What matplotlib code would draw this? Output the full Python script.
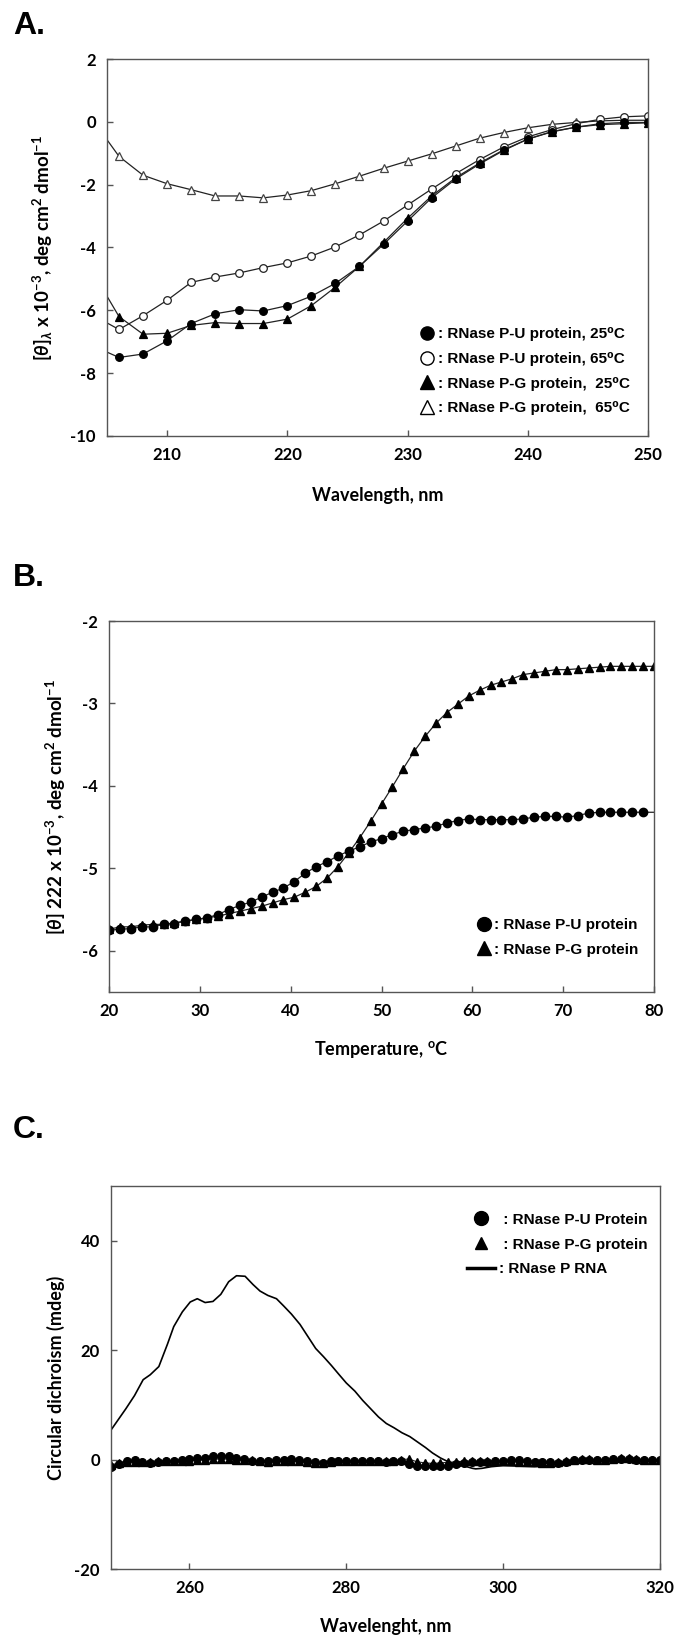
import matplotlib
matplotlib.use("Agg")
import matplotlib.pyplot as plt
from matplotlib.lines import Line2D

plt.rcParams['font.family'] = ['Lato', 'DejaVu Sans']
plt.rcParams['font.weight'] = 'bold'
plt.rcParams['axes.unicode_minus'] = False
plt.rcParams['mathtext.fontset'] = 'custom'
plt.rcParams['mathtext.rm'] = 'Lato:bold'
plt.rcParams['mathtext.it'] = 'Lato:bold:italic'
plt.rcParams['mathtext.bf'] = 'Lato:bold'
plt.rcParams['mathtext.fallback'] = 'stixsans'

# ---- panel A: far-UV CD spectra ----
wl_a = [205, 206, 208, 210, 212, 214, 216, 218, 220, 222, 224, 226, 228,
        230, 232, 234, 236, 238, 240, 242, 244, 246, 248, 250]
pu_25 = [-7.33, -7.50, -7.39, -6.97, -6.42, -6.11, -5.98, -6.02, -5.85, -5.55, -5.14, -4.60,
         -3.90, -3.16, -2.42, -1.82, -1.34, -0.91, -0.55, -0.32, -0.17, -0.06, -0.02, -0.02]
pu_65 = [-6.40, -6.61, -6.17, -5.68, -5.11, -4.94, -4.81, -4.64, -4.49, -4.27, -3.98, -3.60,
         -3.16, -2.65, -2.14, -1.65, -1.20, -0.80, -0.48, -0.25, -0.06, 0.08, 0.16, 0.19]
pg_25 = [-5.55, -6.20, -6.76, -6.73, -6.48, -6.39, -6.42, -6.42, -6.28, -5.85, -5.26, -4.60,
         -3.84, -3.07, -2.36, -1.78, -1.31, -0.89, -0.55, -0.31, -0.17, -0.09, -0.06, -0.03]
pg_65 = [-0.57, -1.10, -1.70, -1.97, -2.16, -2.36, -2.36, -2.42, -2.33, -2.19, -1.97, -1.73,
         -1.48, -1.25, -1.02, -0.77, -0.52, -0.34, -0.19, -0.08, -0.02, 0.03, 0.05, 0.05]

# ---- panel B: thermal melt at 222 nm ----
temp_b = [20.0, 21.2, 22.4, 23.6, 24.8, 26.0, 27.2, 28.4, 29.6, 30.8, 32.0, 33.2, 34.4,
          35.6, 36.8, 38.0, 39.2, 40.4, 41.6, 42.8, 44.0, 45.2, 46.4, 47.6, 48.8, 50.0,
          51.2, 52.4, 53.6, 54.8, 56.0, 57.2, 58.4, 59.6, 60.8, 62.0, 63.2, 64.4, 65.6,
          66.8, 68.0, 69.2, 70.4, 71.6, 72.8, 74.0, 75.2, 76.4, 77.6, 78.8, 80.0]
melt_pu = [-5.75, -5.74, -5.73, -5.71, -5.71, -5.68, -5.67, -5.64, -5.62, -5.60, -5.56, -5.50,
           -5.45, -5.41, -5.35, -5.29, -5.24, -5.16, -5.06, -4.98, -4.92, -4.85, -4.79, -4.74,
           -4.68, -4.64, -4.59, -4.55, -4.53, -4.51, -4.49, -4.45, -4.42, -4.40, -4.41, -4.41,
           -4.41, -4.41, -4.40, -4.38, -4.37, -4.37, -4.38, -4.36, -4.33, -4.32, -4.32, -4.32,
           -4.32, -4.32, -4.32]
melt_pg = [-5.74, -5.71, -5.71, -5.69, -5.68, -5.68, -5.66, -5.64, -5.62, -5.60, -5.58, -5.55,
           -5.52, -5.49, -5.46, -5.42, -5.38, -5.35, -5.29, -5.22, -5.12, -4.98, -4.81, -4.63,
           -4.43, -4.22, -4.01, -3.79, -3.58, -3.40, -3.24, -3.11, -3.01, -2.91, -2.84, -2.78,
           -2.74, -2.70, -2.65, -2.63, -2.61, -2.59, -2.59, -2.58, -2.57, -2.56, -2.55, -2.55,
           -2.55, -2.55, -2.55]

# ---- panel C: near-UV CD ----
wl_rna = [250, 251.9, 253.0, 254.1, 255.0, 256.1, 257.2, 258.0, 259.1, 260.1, 261.0, 262.0,
          263.0, 264.0, 265.0, 266.0, 267.1, 268.1, 269.0, 270.0, 271.1, 272.0, 273.0, 274.1,
          275.1, 276.1, 277.1, 278.1, 279.1, 280.0, 281.1, 282.1, 283.1, 284.1, 285.1, 286.1,
          287.1, 288.1, 289.1, 290.1, 291.0, 292.0, 293.0, 294.1, 295.1, 296.1, 296.5, 297.3,
          298.5, 300.0, 302.1, 304.0, 306.0, 307.0, 308.1, 310.0, 313.1, 316.1, 320.0]
cd_rna = [5.4, 9.3, 11.7, 14.6, 15.5, 17.0, 21.1, 24.3, 27.0, 28.8, 29.4, 28.7,
          28.9, 30.2, 32.5, 33.6, 33.5, 32.0, 30.8, 30.0, 29.4, 28.1, 26.6, 24.7,
          22.5, 20.3, 18.8, 17.2, 15.5, 14.0, 12.5, 10.8, 9.3, 7.8, 6.6, 5.8,
          4.9, 4.2, 3.2, 2.2, 1.2, 0.3, -0.4, -0.9, -1.2, -1.6, -1.7, -1.6,
          -1.3, -1.1, -1.2, -1.3, -1.1, -0.7, -0.4, -0.2, -0.2, -0.2, -0.2]
wl_c = list(range(250, 321))
cd_pu = [-1.4, -0.9, -0.3, -0.1, -0.4, -0.7, -0.4, -0.2, -0.2, 0.0, 0.1, 0.3, 0.3, 0.6, 0.6,
         0.6, 0.3, 0.1, -0.2, -0.3, -0.2, -0.1, -0.1, 0.1, -0.1, -0.2, -0.5, -0.7, -0.3, -0.2,
         -0.3, -0.3, -0.2, -0.2, -0.3, -0.4, -0.3, -0.2, -0.9, -1.1, -1.1, -1.1, -1.1, -1.1,
         -0.9, -0.7, -0.5, -0.5, -0.4, -0.3, -0.2, -0.1, -0.1, -0.2, -0.4, -0.5, -0.5, -0.7,
         -0.5, -0.1, 0.0, 0.0, -0.1, 0.0, 0.1, 0.1, 0.1, 0.0, 0.0, -0.1, -0.1]
cd_pg = [-1.0, -0.6, -0.4, -0.4, -0.5, -0.4, -0.2, -0.3, -0.3, -0.2, -0.2, -0.1, 0.0, 0.1, 0.1,
         0.1, 0.0, 0.0, -0.1, -0.3, -0.4, -0.3, -0.3, -0.2, -0.3, -0.5, -0.6, -0.6, -0.4, -0.3,
         -0.3, -0.2, -0.2, -0.2, -0.3, -0.3, -0.2, 0.0, 0.1, -0.4, -0.6, -0.7, -0.6, -0.5,
         -0.4, -0.3, -0.3, -0.3, -0.3, -0.2, -0.2, -0.3, -0.4, -0.5, -0.5, -0.6, -0.6, -0.5,
         -0.3, 0.0, 0.1, 0.1, 0.0, 0.0, 0.1, 0.2, 0.2, 0.1, 0.0, 0.0, 0.0]

legend_font = {'family': ['Liberation Sans', 'DejaVu Sans'], 'weight': 'bold', 'size': 11}
spine_col = '#555555'

fig = plt.figure(figsize=(6.78, 16.42), dpi=100)


def style(ax):
    for s in ax.spines.values():
        s.set_color(spine_col)
        s.set_linewidth(1.0)
    ax.tick_params(direction='in', length=4, width=1.0, color=spine_col,
                   labelsize=12, pad=8, top=False, right=False)
    for lab in ax.get_xticklabels() + ax.get_yticklabels():
        lab.set_fontweight('bold')
    ax.yaxis.label.set_va('center')
    ax.xaxis.label.set_va('center')


# panel A
axA = fig.add_axes([107/678, 1-436/1642, 541/678, 377/1642])
kw = dict(color='#222222', lw=0.9, markersize=5.5, markeredgewidth=0.9, markevery=slice(1, None))
axA.plot(wl_a, pg_65, marker='^', mfc='white', mec='#444444', **kw)
axA.plot(wl_a, pu_65, marker='o', mfc='white', mec='#222222', **kw)
axA.plot(wl_a, pg_25, marker='^', mfc='black', mec='black', **kw)
axA.plot(wl_a, pu_25, marker='o', mfc='black', mec='black', **kw)
axA.set_xlim(205, 250)
axA.set_ylim(-10, 2)
axA.set_xticks([210, 220, 230, 240, 250])
axA.set_yticks([-10, -8, -6, -4, -2, 0, 2])
axA.set_xlabel('Wavelength, nm', fontsize=13, fontweight='bold')
axA.set_ylabel(r'[$\mathit{\theta}$]$_{\lambda}$ x 10$^{-3}$, deg cm$^{2}$ dmol$^{-1}$',
               fontsize=13.5, fontweight='bold')
style(axA)
axA.xaxis.set_label_coords(0.5, -0.1565)
axA.yaxis.set_label_coords(-0.118, 0.5)
hA = [Line2D([], [], ls='none', marker='o', mfc='black', mec='black', ms=9.5),
      Line2D([], [], ls='none', marker='o', mfc='white', mec='black', ms=9.5),
      Line2D([], [], ls='none', marker='^', mfc='black', mec='black', ms=9.5),
      Line2D([], [], ls='none', marker='^', mfc='white', mec='black', ms=9.5)]
labA = [': RNase P-U protein, 25\u2070C', ': RNase P-U protein, 65\u2070C',
        ': RNase P-G protein,  25\u2070C', ': RNase P-G protein,  65\u2070C']
axA.legend(hA, labA, loc='lower right', bbox_to_anchor=(0.967, 0.055), frameon=False,
           prop=legend_font, handlelength=1.0, handletextpad=0.2, labelspacing=0.7,
           borderpad=0, borderaxespad=0)

# panel B
axB = fig.add_axes([109/678, 1-992/1642, 545/678, 371/1642])
axB.plot(temp_b, melt_pg, marker='^', color='#222222', lw=0.9, ms=6, mfc='black', mec='black')
axB.plot(temp_b, melt_pu, marker='o', color='#222222', lw=0.9, ms=6, mfc='black', mec='black',
         markevery=slice(0, -1))
axB.set_xlim(20, 80)
axB.set_ylim(-6.5, -2)
axB.set_xticks([20, 30, 40, 50, 60, 70, 80])
axB.set_yticks([-6, -5, -4, -3, -2])
axB.set_xlabel(r'Temperature, $^{\mathrm{o}}$C', fontsize=13, fontweight='bold')
axB.set_ylabel(r'[$\mathit{\theta}$] 222 x 10$^{-3}$, deg cm$^{2}$ dmol$^{-1}$',
               fontsize=13.5, fontweight='bold')
style(axB)
axB.xaxis.set_label_coords(0.5, -0.156)
axB.yaxis.set_label_coords(-0.097, 0.5)
hB = [Line2D([], [], ls='none', marker='o', mfc='black', mec='black', ms=10),
      Line2D([], [], ls='none', marker='^', mfc='black', mec='black', ms=10)]
labB = [': RNase P-U protein', ': RNase P-G protein']
axB.legend(hB, labB, loc='lower right', bbox_to_anchor=(0.9706, 0.095), frameon=False,
           prop=legend_font, handlelength=1.0, handletextpad=0.1, labelspacing=0.7,
           borderpad=0, borderaxespad=0)

# panel C
axC = fig.add_axes([111/678, 1-1569/1642, 549/678, 383/1642])
axC.plot(wl_c, cd_pg, marker='^', color='#222222', lw=0.8, ms=5.5, mfc='black', mec='black')
axC.plot(wl_c, cd_pu, marker='o', color='#222222', lw=0.8, ms=5.5, mfc='black', mec='black')
axC.plot(wl_rna, cd_rna, color='black', lw=1.2)
axC.set_xlim(250, 320)
axC.set_ylim(-20, 50)
axC.set_xticks([260, 280, 300, 320])
axC.set_yticks([-20, 0, 20, 40])
axC.set_xlabel('Wavelenght, nm', fontsize=13, fontweight='bold')
axC.set_ylabel('Circular dichroism (mdeg)', fontsize=13, fontweight='bold')
style(axC)
axC.xaxis.set_label_coords(0.5, -0.151)
axC.yaxis.set_label_coords(-0.1, 0.5)
hC = [Line2D([], [], ls='none', marker='o', mfc='black', mec='black', ms=10),
      Line2D([], [], ls='none', marker='^', mfc='black', mec='black', ms=9),
      Line2D([], [], color='black', lw=2.5)]
labC = [' : RNase P-U Protein', ' : RNase P-G protein', ': RNase P RNA']
axC.legend(hC, labC, loc='upper left', bbox_to_anchor=((467-111)/549, 0.93), frameon=False,
           prop=legend_font, handlelength=1.8, handletextpad=0.3, labelspacing=0.7,
           borderpad=0, borderaxespad=0)

# panel letters
for letter, ybase in [('A.', 34), ('B.', 586), ('C.', 1138)]:
    fig.text(13/678, 1-ybase/1642, letter, fontsize=23, fontweight='bold',
             family=['Liberation Sans', 'DejaVu Sans'], va='baseline', ha='left')

fig.savefig('out.png', dpi=100)
